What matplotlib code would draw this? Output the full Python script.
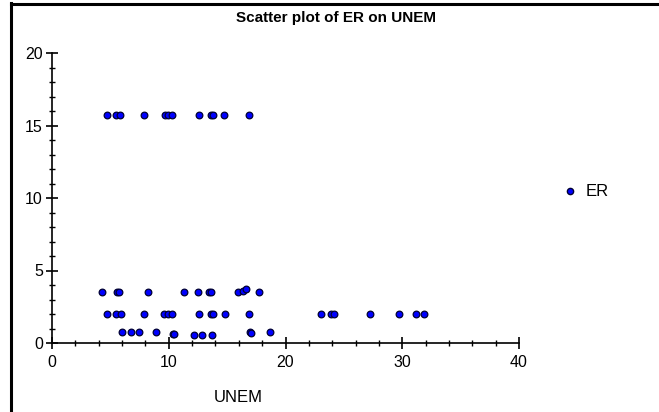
import matplotlib
matplotlib.use("Agg")
import matplotlib.pyplot as plt
from matplotlib.lines import Line2D
from matplotlib.ticker import MultipleLocator
from matplotlib import font_manager

names = {f.name for f in font_manager.fontManager.ttflist}
narrow = "Liberation Sans Narrow" if "Liberation Sans Narrow" in names else "Liberation Sans"
plt.rcParams['font.family'] = [narrow, 'DejaVu Sans']

title = "Scatter plot of ER on UNEM"
x_label = "UNEM"
series_name = "ER"

unem_top = [4.69, 5.49, 5.83, 7.88, 9.68, 9.97, 10.31, 12.6, 13.62, 13.77, 14.74, 16.9]
er_top = [15.7] * len(unem_top)

unem_mid = [4.26, 5.6, 5.71, 8.25, 11.34, 12.48, 13.48, 13.62, 15.97, 16.4, 16.6, 17.77]
er_mid = [3.5, 3.5, 3.5, 3.5, 3.5, 3.5, 3.5, 3.5, 3.5, 3.6, 3.7, 3.5]

unem_low = [4.69, 5.46, 5.89, 7.88, 9.63, 9.97, 10.31, 12.6, 13.6, 13.77, 14.82, 16.9,
            23.05, 23.9, 24.14, 27.25, 29.76, 31.17, 31.85]
er_low = [2.0] * len(unem_low)

unem_bot = [6.0, 6.77, 7.48, 8.88, 10.4, 10.48, 12.14, 12.88, 13.68, 16.97, 17.05, 18.68]
er_bot = [0.74, 0.74, 0.74, 0.74, 0.62, 0.6, 0.58, 0.58, 0.58, 0.74, 0.72, 0.74]

unem = unem_top + unem_mid + unem_low + unem_bot
er = er_top + er_mid + er_low + er_bot

W, H = 659, 412
fig = plt.figure(figsize=(W / 100, H / 100), dpi=100)
ax = fig.add_axes([52 / W, (H - 343) / H, (519 - 52) / W, (343 - 53) / H])

ax.plot(unem, er, linestyle='none', marker='o', markersize=4.8,
        markerfacecolor='#0000ff', markeredgecolor='#000033', markeredgewidth=0.9,
        clip_on=False)

ax.set_xlim(0, 40)
ax.set_ylim(0, 20)
ax.xaxis.set_major_locator(MultipleLocator(10))
ax.xaxis.set_minor_locator(MultipleLocator(2))
ax.yaxis.set_major_locator(MultipleLocator(5))
ax.yaxis.set_minor_locator(MultipleLocator(1))
for s in ['top', 'right']:
    ax.spines[s].set_visible(False)
for s in ['left', 'bottom']:
    ax.spines[s].set_linewidth(1.2)
    ax.spines[s].set_color('black')
ax.tick_params(which='major', direction='inout', length=9, width=1.2, labelsize=11.5, pad=2)
ax.tick_params(which='minor', direction='inout', length=5, width=1.0)
ax.tick_params(axis='x', which='major', pad=4)

fig.text(336 / W, 1 - 18 / H, title, ha='center', va='center', fontsize=11, fontweight='bold')
fig.text(238 / W, 1 - 398 / H, x_label, ha='center', va='center', fontsize=12)

fig.add_artist(Line2D([570 / W], [1 - 191 / H], marker='o', markersize=4.5,
                      markerfacecolor='#0000ff', markeredgecolor='#000033', linestyle='none'))
fig.text(586 / W, 1 - 192 / H, series_name, ha='left', va='center', fontsize=12)

fig.add_artist(Line2D([11 / W, 11 / W], [0, 1 - 3 / H], color='black', linewidth=2.2))
fig.add_artist(Line2D([11 / W, 658 / W], [1 - 3.5 / H, 1 - 3.5 / H], color='black', linewidth=2.2))

fig.savefig("out.png", dpi=100)
